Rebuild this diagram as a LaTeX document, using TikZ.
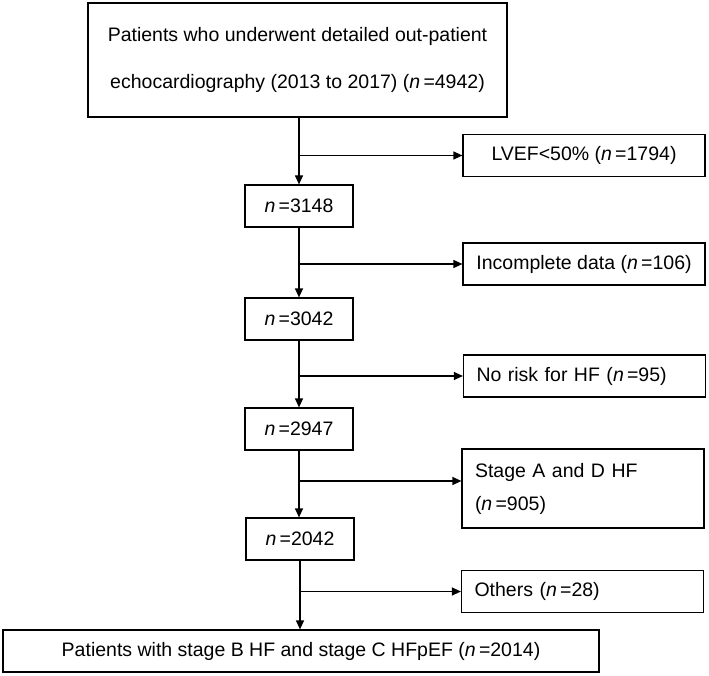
\documentclass[tikz,border=0pt]{standalone}
\usepackage{fontspec}
\setmainfont{Liberation Sans}
\usetikzlibrary{arrows.meta,calc}
\tikzset{
  box/.style={draw, line width=1.2pt, inner sep=0pt, minimum height=42pt, font=\fontsize{19.5}{24}\selectfont},
  nbox/.style={box, minimum width=108pt},
  sidebox/.style={box, minimum width=242pt},
  leftbox/.style={sidebox, text width=216pt, align=left},
  flow/.style={line width=1.2pt, -{Triangle[length=9pt,width=8pt]}}
}
\newcommand{\nval}[1]{\textit{n}\,=#1}

\begin{document}
\begin{tikzpicture}[x=1pt,y=-1pt]
		%%%%% START %%%%%
		\useasboundingbox (0,0) rectangle (709,676);
		
		\node[box, minimum width=419pt, minimum height=114pt, align=center] (start) at (297.5,60) {Patients who underwent detailed out-patient\\[23pt]echocardiography (2013 to 2017) (\nval{4942})};
		
		\node[sidebox] (lvef) at (584,155.5) {LVEF<50\% (\nval{1794})};
		\node[nbox] (n1) at (299,206) {\nval{3148}};
		
		\node[sidebox] (incomp) at (584,264) {Incomplete data (\nval{106})};
		\node[nbox] (n2) at (299,319) {\nval{3042}};
		
		\node[leftbox] (norisk) at (584.5,376) {No risk for HF (\nval{95})};
		\node[nbox] (n3) at (299,429) {\nval{2947}};
		
		\node[leftbox, minimum height=79pt] (stage) at (583,488.5) {Stage A and D HF\\[9pt](\nval{905})};
		\node[nbox] (n4) at (300,539) {\nval{2042}};
		
		\node[leftbox] (others) at (582.5,591.5) {Others (\nval{28})};
		\node[box, minimum width=596pt] (final) at (301,651) {Patients with stage B HF and stage C HFpEF (\nval{2014})};
		
		% main column
		\draw[flow] (start.south -| n1) -- (n1.north);
		\draw[flow] (n1.south) -- (n2.north);
		\draw[flow] (n2.south) -- (n3.north);
		\draw[flow] (n3.south) -- (n3.south |- n4.north);
		\draw[flow] (n4.south) -- (n4.south |- final.north);
		
		% exclusions
		\coordinate (j1) at (n1.north |- lvef.west);
		\coordinate (j2) at (n2.north |- incomp.west);
		\coordinate (j3) at (n3.north |- norisk.west);
		\coordinate (j4) at (n3.south |- 0,481);
		\coordinate (j5) at (n4.south |- others.west);
		\draw[flow] (j1) -- (lvef.west);
		\draw[flow] (j2) -- (incomp.west);
		\draw[flow] (j3) -- (norisk.west);
		\draw[flow] (j4) -- (stage.west |- j4);
		\draw[flow] (j5) -- (others.west);
		%%%%% END %%%%%
\end{tikzpicture}
\end{document}
